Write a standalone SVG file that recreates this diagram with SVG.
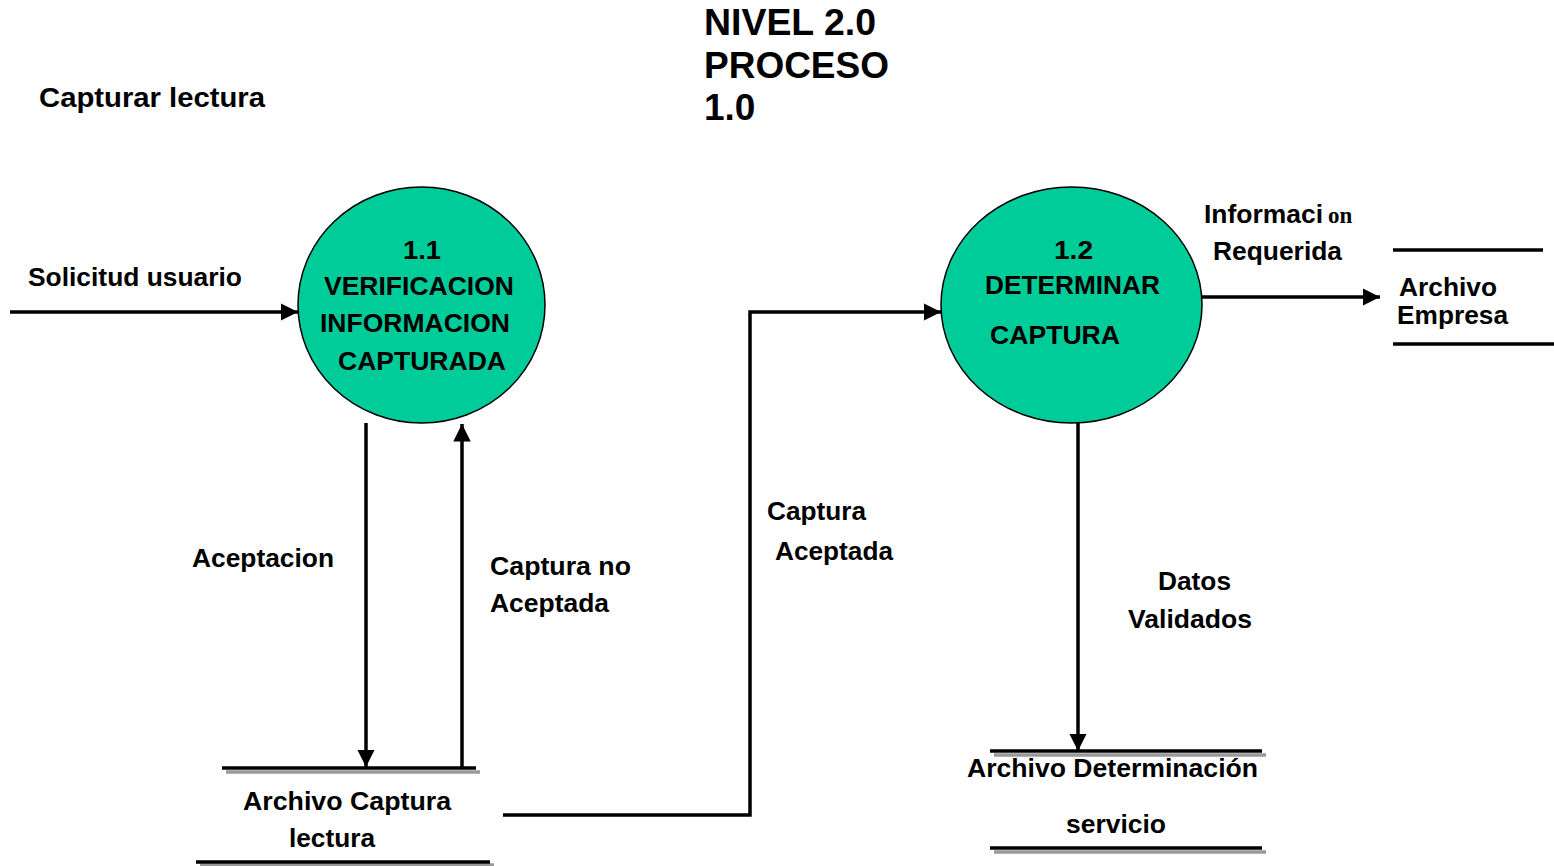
<svg xmlns="http://www.w3.org/2000/svg" width="1554" height="866" viewBox="0 0 1554 866">
<defs>
<marker id="ah" viewBox="0 0 10 10" refX="10" refY="5" markerWidth="5" markerHeight="5" markerUnits="strokeWidth" orient="auto">
<path d="M0,0 L10,5 L0,10 Z" fill="#000"/>
</marker>
</defs>
<style>
text{font-family:"Liberation Sans",Arial,sans-serif;font-weight:bold;fill:#000}
.lbl{font-size:26px}
.ttl{font-size:37px}
.proc{fill:#00CC99;stroke:#000;stroke-width:1.5}
.flow{fill:none;stroke:#000;stroke-width:3.5}
.store{stroke:#000;stroke-width:3.5}
.shadow{stroke:#999;stroke-width:3.5}
</style>
<rect width="1554" height="866" fill="#fff"/>
<g id="title">
<text class="ttl" x="704" y="35" textLength="172" lengthAdjust="spacingAndGlyphs">NIVEL 2.0</text>
<text class="ttl" x="704" y="78" textLength="185" lengthAdjust="spacingAndGlyphs">PROCESO</text>
<text class="ttl" x="704" y="120">1.0</text>
</g>
<g id="subtitle">
<text x="39" y="107" style="font-size:27px" textLength="226" lengthAdjust="spacingAndGlyphs">Capturar lectura</text>
</g>
<g id="connectors">
<line class="flow" x1="10" y1="312" x2="298" y2="312" marker-end="url(#ah)"/>
<line class="flow" x1="366" y1="423" x2="366" y2="767" marker-end="url(#ah)"/>
<line class="flow" x1="462" y1="768" x2="462" y2="424" marker-end="url(#ah)"/>
<polyline class="flow" points="503,815 750,815 750,312 941,312" marker-end="url(#ah)"/>
<line class="flow" x1="1202" y1="297" x2="1380" y2="297" marker-end="url(#ah)"/>
<line class="flow" x1="1078" y1="423" x2="1078" y2="751" marker-end="url(#ah)"/>
<text class="lbl" x="28" y="286" textLength="214" lengthAdjust="spacingAndGlyphs">Solicitud usuario</text>
<text class="lbl" x="192" y="567" textLength="142" lengthAdjust="spacingAndGlyphs">Aceptacion</text>
<text class="lbl" x="490" y="575" textLength="141" lengthAdjust="spacingAndGlyphs">Captura no</text>
<text class="lbl" x="490" y="612" textLength="119" lengthAdjust="spacingAndGlyphs">Aceptada</text>
<text class="lbl" x="767" y="520" textLength="99" lengthAdjust="spacingAndGlyphs">Captura</text>
<text class="lbl" x="775" y="560" textLength="118" lengthAdjust="spacingAndGlyphs">Aceptada</text>
<text class="lbl" x="1204" y="223" textLength="119" lengthAdjust="spacingAndGlyphs">Informaci</text>
<text x="1328" y="223" style="font-family:'Liberation Serif','Times New Roman',serif;font-size:23px">on</text>
<text class="lbl" x="1213" y="260" textLength="129" lengthAdjust="spacingAndGlyphs">Requerida</text>
<text class="lbl" x="1158" y="590" textLength="73" lengthAdjust="spacingAndGlyphs">Datos</text>
<text class="lbl" x="1128" y="628" textLength="124" lengthAdjust="spacingAndGlyphs">Validados</text>
</g>
<g id="p1_1">
<ellipse class="proc" cx="421.5" cy="305" rx="123.5" ry="118"/>
<text class="lbl" x="403" y="259" textLength="38" lengthAdjust="spacingAndGlyphs">1.1</text>
<text class="lbl" x="324" y="295" textLength="190" lengthAdjust="spacingAndGlyphs">VERIFICACION</text>
<text class="lbl" x="320" y="332" textLength="190" lengthAdjust="spacingAndGlyphs">INFORMACION</text>
<text class="lbl" x="338" y="370" textLength="168" lengthAdjust="spacingAndGlyphs">CAPTURADA</text>
</g>
<g id="p1_2">
<ellipse class="proc" cx="1071.5" cy="305" rx="130.5" ry="118"/>
<text class="lbl" x="1054" y="259" textLength="39" lengthAdjust="spacingAndGlyphs">1.2</text>
<text class="lbl" x="985" y="294" textLength="175" lengthAdjust="spacingAndGlyphs">DETERMINAR</text>
<text class="lbl" x="990" y="344" textLength="130" lengthAdjust="spacingAndGlyphs">CAPTURA</text>
</g>
<g id="store_captura">
<line class="shadow" x1="226" y1="772" x2="480" y2="772"/>
<line class="store" x1="222" y1="768" x2="476" y2="768"/>
<line class="shadow" x1="200" y1="865" x2="494" y2="865"/>
<line class="store" x1="196" y1="862" x2="490" y2="862"/>
<text class="lbl" x="243" y="810" textLength="208" lengthAdjust="spacingAndGlyphs">Archivo Captura</text>
<text class="lbl" x="289" y="847" textLength="86" lengthAdjust="spacingAndGlyphs">lectura</text>
</g>
<g id="store_empresa">
<line class="store" x1="1393" y1="250" x2="1543" y2="250"/>
<line class="store" x1="1393" y1="344" x2="1554" y2="344"/>
<text class="lbl" x="1399" y="296" textLength="98" lengthAdjust="spacingAndGlyphs">Archivo</text>
<text class="lbl" x="1397" y="324" textLength="111" lengthAdjust="spacingAndGlyphs">Empresa</text>
</g>
<g id="store_determinacion">
<line class="shadow" x1="994" y1="755" x2="1266" y2="755"/>
<line class="store" x1="990" y1="751" x2="1262" y2="751"/>
<line class="shadow" x1="994" y1="852" x2="1266" y2="852"/>
<line class="store" x1="990" y1="848" x2="1262" y2="848"/>
<text class="lbl" x="967" y="777" textLength="291" lengthAdjust="spacingAndGlyphs">Archivo Determinación</text>
<text class="lbl" x="1066" y="833" textLength="100" lengthAdjust="spacingAndGlyphs">servicio</text>
</g>
</svg>
